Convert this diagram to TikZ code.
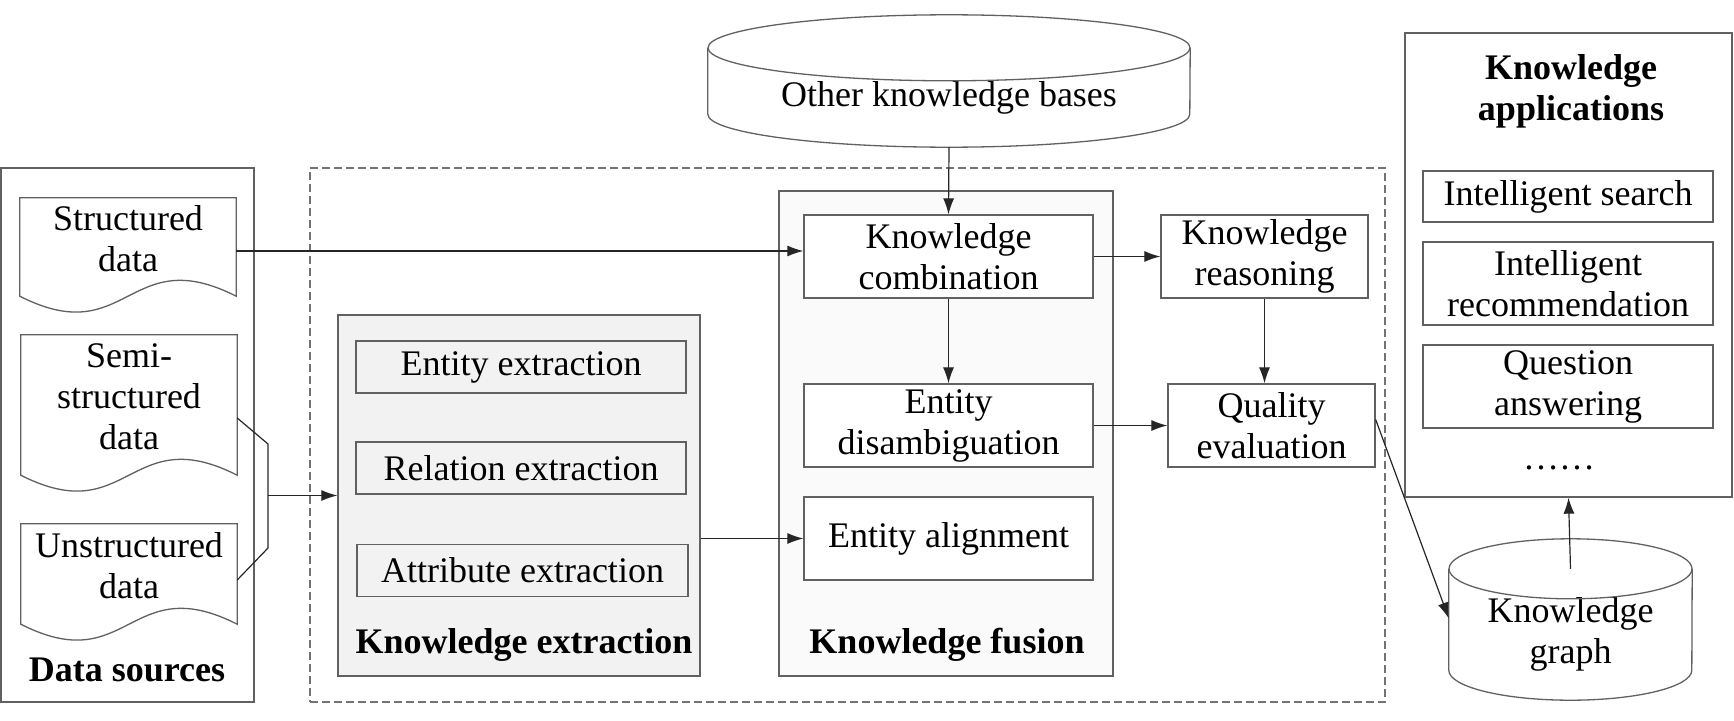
\documentclass[tikz,border=0pt]{standalone}
\usepackage{fontspec}
\setmainfont{Liberation Serif}
\usetikzlibrary{arrows.meta,calc}

\begin{document}
\begin{tikzpicture}[x=1pt,y=-1pt,
  every node/.style={font=\fontsize{36}{41}\selectfont, align=center, inner sep=0pt},
  frame/.style={draw=black!62, line width=1.3pt},
  box/.style={frame, rectangle},
  doc/.style={minimum width=216pt},
  title/.style={font=\fontsize{36}{41}\selectfont\bfseries},
  conn/.style={draw=black!85, line width=1.2pt},
  arr/.style={conn, -{Latex[length=16pt,width=11pt]}}]
  \useasboundingbox (0,0) rectangle (1734,720);
  % data sources
  \node[box, minimum width=253pt, minimum height=534pt] (src) at (127.5,435) {};
  \node[doc, minimum height=82pt] (sd) at (128,239) {Structured\\data};
  \node[doc, minimum height=124pt] (ssd) at (129,397) {Semi-\\structured\\data};
  \node[doc, minimum height=84pt] (usd) at (129,566) {Unstructured\\data};
  \foreach \d in {sd,ssd,usd}
    \draw[frame] (\d.north west) -- (\d.north east) -- ($(\d.south east)+(0,16)$)
      .. controls ($(\d.south)+(0,-39)$) and ($(\d.south)+(0,71)$) .. ($(\d.south west)+(0,16)$) -- cycle;
  \node[title] (srct) at (127,670) {Data sources};
  % construction area
  \node[draw=black!55, line width=1.2pt, dash pattern=on 8pt off 4pt, minimum width=1075pt, minimum height=534pt] (build) at (847.5,435) {};
  \node[box, fill=black!5, minimum width=362pt, minimum height=361pt] (ext) at (519,495.5) {};
  \node[box, minimum width=330pt, minimum height=52pt] (ent) at (521,367) {Entity extraction};
  \node[box, minimum width=330pt, minimum height=52pt] (rel) at (521,468) {Relation extraction};
  \node[box, minimum width=331pt, minimum height=52pt] (att) at (522.5,570.5) {Attribute extraction};
  \node[title] (extt) at (524,645) {Knowledge extraction};
  \node[box, fill=black!2, minimum width=334pt, minimum height=485pt] (fus) at (946,433.5) {};
  \node[box, fill=white, minimum width=289pt, minimum height=83pt] (comb) at (948.5,256.5) {Knowledge\\combination};
  \node[box, fill=white, minimum width=289pt, minimum height=83pt] (dis) at (948.5,425.5) {Entity\\disambiguation};
  \node[box, fill=white, minimum width=289pt, minimum height=83pt] (ali) at (948.5,538.5) {Entity alignment};
  \node[title] (fust) at (947,645) {Knowledge fusion};
  \node[box, minimum width=207pt, minimum height=83pt] (reason) at (1264.5,256.5) {Knowledge\\reasoning};
  \node[box, minimum width=207pt, minimum height=83pt] (qual) at (1271.5,425.5) {Quality\\evaluation};
  % other knowledge bases
  \node[minimum width=482pt, minimum height=99pt] (okb) at (949,97.5) {Other knowledge bases};
  \draw[frame] (okb.north) ellipse [x radius=241pt, y radius=33pt];
  \draw[frame] (okb.north west) -- ([yshift=33pt]okb.south west)
    arc[start angle=180, end angle=360, x radius=241pt, y radius=33pt] -- (okb.north east);
  % knowledge graph
  \node[minimum width=243pt, minimum height=131pt] (kg) at (1570.5,634.5) {Knowledge\\graph};
  \draw[frame] (kg.north) ellipse [x radius=121.5pt, y radius=30pt];
  \draw[frame] (kg.north west) -- ([yshift=30pt]kg.south west)
    arc[start angle=180, end angle=360, x radius=121.5pt, y radius=30pt] -- (kg.north east);
  % applications
  \node[box, minimum width=327pt, minimum height=464pt] (apps) at (1568.5,265) {};
  \node[title] (appst) at (1571,91.5) {Knowledge\\applications};
  \node[box, minimum width=290pt, minimum height=51pt] (search) at (1568,196.5) {Intelligent search};
  \node[box, minimum width=290pt, minimum height=83pt] (rec) at (1568,283.5) {Intelligent\\recommendation};
  \node[box, minimum width=290pt, minimum height=83pt] (qa) at (1568,386.5) {Question\\answering};
  \node (dots) at (1559,468) {……};
  % connectors
  \coordinate (s1) at ($(sd.east)+(0,12)$);
  \coordinate (brk1) at (268,444);
  \coordinate (brk2) at (268,548);
  \draw[arr] (s1) -- (s1 -| comb.west);
  \draw[conn] ($(ssd.east)+(0,21)$) -- (brk1) -- (brk2) -- ($(usd.east)+(0,14)$);
  \draw[arr] (brk1 |- ext.west) -- (ext.west);
  \draw[arr] (okb.south) -- (comb.north);
  \draw[arr] (comb.east) -- (reason.west);
  \draw[arr] (comb.south) -- (dis.north);
  \draw[arr] (dis.east) -- (qual.west);
  \draw[arr] (reason.south) -- (reason.south |- qual.north);
  \draw[arr] (ext.east |- ali.west) -- (ali.west);
  \draw[arr] ($(qual.east)+(0,-6)$) -- ($(kg.west)+(0,-16)$);
  \draw[arr] (kg.north) -- (apps.south);
\end{tikzpicture}
\end{document}
